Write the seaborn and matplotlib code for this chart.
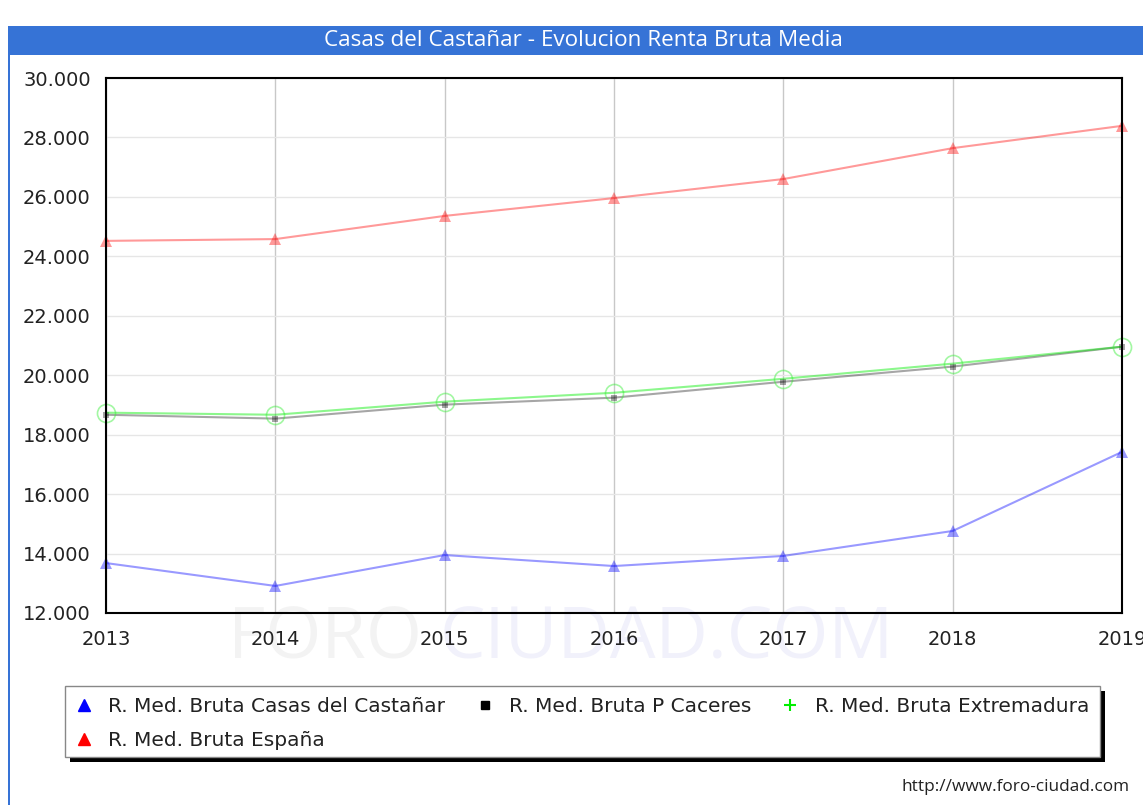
import matplotlib
matplotlib.use("Agg")
import matplotlib.pyplot as plt
from matplotlib.lines import Line2D
from matplotlib.patches import Rectangle
from matplotlib.ticker import FuncFormatter
import seaborn as sns
import pandas as pd

# data
years = [2013, 2014, 2015, 2016, 2017, 2018, 2019]
casas = [13680, 12910, 13950, 13580, 13920, 14760, 17420]
caceres = [18670, 18540, 19010, 19245, 19780, 20290, 20960]
extremadura = [18740, 18670, 19110, 19410, 19880, 20390, 20960]
espana = [24520, 24580, 25360, 25960, 26600, 27640, 28390]

labels = ["R. Med. Bruta Casas del Castañar", "R. Med. Bruta P Caceres",
          "R. Med. Bruta Extremadura", "R. Med. Bruta España"]
title = "Casas del Castañar - Evolucion Renta Bruta Media"

sns.set_style("white")
plt.rcParams['font.family'] = ['DejaVu Sans']

W, H = 1143, 805
fig = plt.figure(figsize=(W / 100, H / 100), dpi=100)

def px(x0, y0, x1, y1):
    # pixel box -> figure fraction [left, bottom, width, height]
    return [x0 / W, 1 - y1 / H, (x1 - x0) / W, (y1 - y0) / H]

# blue header bar and left border
fig.patches.append(Rectangle((8 / W, 1 - 55 / H), 1, 29 / H, transform=fig.transFigure,
                             facecolor='#3673d6', edgecolor='none', zorder=0))
fig.patches.append(Rectangle((8 / W, 0), 2 / W, 1 - 55 / H, transform=fig.transFigure,
                             facecolor='#3673d6', edgecolor='none', zorder=0))
fig.text(583 / W, 1 - 40 / H, title, color='white', fontsize=16.2, ha='center', va='center',
         family='Open Sans')

# watermark, behind the axes
fig.text(325 / W, 1 - 640 / H, "FORO", color='#f3f3f3', fontsize=52, ha='center', va='center',
         family='Open Sans', zorder=-1)
fig.text(667 / W, 1 - 640 / H, "CIUDAD.COM", color='#f1f1fb', fontsize=52, ha='center', va='center',
         family='Open Sans', zorder=-1)

ax = fig.add_axes(px(106, 78, 1122, 613))
ax.patch.set_alpha(0)

df = pd.DataFrame({"year": years, "casas": casas, "caceres": caceres,
                   "extremadura": extremadura, "espana": espana})

sns.lineplot(data=df, x="year", y="espana", ax=ax, color='#ff0000', alpha=0.4, lw=1.5,
             marker='^', markersize=8, markeredgewidth=0, clip_on=False)
sns.lineplot(data=df, x="year", y="caceres", ax=ax, color='#000000', alpha=0.35, lw=1.5,
             marker='s', markersize=5, markeredgewidth=0, clip_on=False)
sns.lineplot(data=df, x="year", y="extremadura", ax=ax, color='#00ee00', alpha=0.45, lw=1.5,
             marker='o', markersize=13, markerfacecolor='none', markeredgecolor='#33ee33',
             markeredgewidth=1.2, clip_on=False)
sns.lineplot(data=df, x="year", y="casas", ax=ax, color='#0000ff', alpha=0.4, lw=1.5,
             marker='^', markersize=8, markeredgewidth=0, clip_on=False)

ax.set_xlim(2013, 2019)
ax.set_ylim(12000, 30000)
ax.set_xticks(years)
ax.set_yticks(range(12000, 30001, 2000))
ax.yaxis.set_major_formatter(FuncFormatter(lambda v, p: f"{int(v):,}".replace(",", ".")))
ax.set_xlabel("")
ax.set_ylabel("")
ax.tick_params(axis='both', length=0, labelsize=14, colors='#222222')
ax.tick_params(axis='y', pad=11)
ax.tick_params(axis='x', pad=12)
ax.xaxis.grid(True, color='#c8c8c8', lw=1)
ax.yaxis.grid(True, color='#e6e6e6', lw=1)
for s in ax.spines.values():
    s.set_color('black')
    s.set_linewidth(1.5)
    s.set_visible(True)

# legend box with hard black shadow
lx0, ly0, lx1, ly1 = 65, 686, 1100, 757
fig.patches.append(Rectangle((lx0 / W + 5 / W, 1 - ly1 / H - 5 / H), (lx1 - lx0) / W, (ly1 - ly0) / H,
                             transform=fig.transFigure, facecolor='black', edgecolor='none', zorder=1))
fig.patches.append(Rectangle((lx0 / W, 1 - ly1 / H), (lx1 - lx0) / W, (ly1 - ly0) / H,
                             transform=fig.transFigure, facecolor='white', edgecolor='#888888',
                             lw=1, zorder=2))

handles = [
    Line2D([], [], ls='none', marker='^', color='#0000ff', markersize=8),
    Line2D([], [], ls='none', marker='s', color='#000000', markersize=6),
    Line2D([], [], ls='none', marker='+', color='#00ee00', markersize=8, markeredgewidth=1.5),
    Line2D([], [], ls='none', marker='^', color='#ff0000', markersize=8),
]
order = [0, 3, 1, 2]
leg = fig.legend([handles[i] for i in order], [labels[i] for i in order], ncol=3,
                 loc='upper left', bbox_to_anchor=(66 / W, 1 - 689 / H), frameon=False,
                 fontsize=14.5, handlelength=1.0, handletextpad=0.7, columnspacing=1.45,
                 labelspacing=0.75, borderaxespad=0, labelcolor='#222222')
leg.set_zorder(3)

fig.text(1130 / W, 1 - 787 / H, "http://www.foro-ciudad.com", fontsize=12.4, ha='right',
         va='center', color='#222222', family='Open Sans')

fig.savefig("out.png", dpi=100)
